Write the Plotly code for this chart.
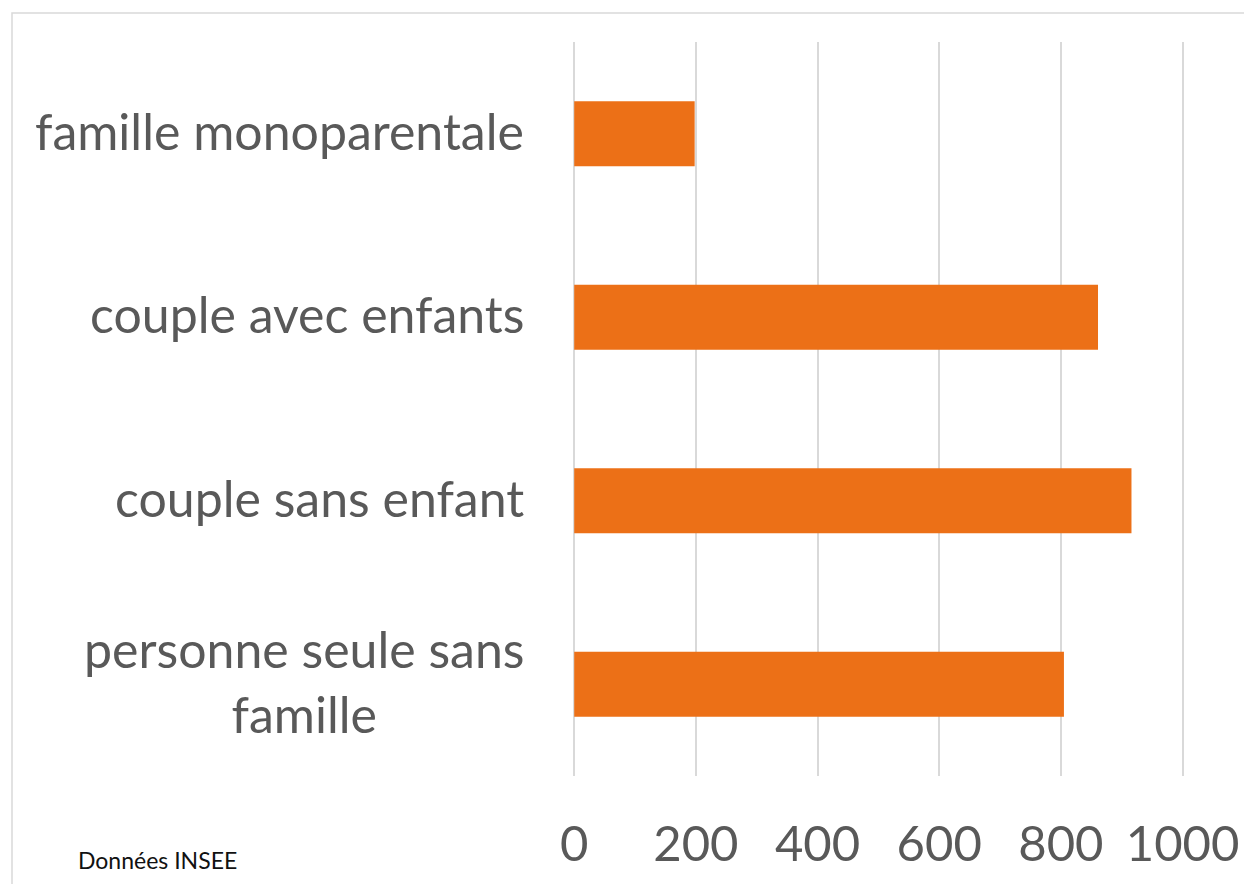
import plotly.graph_objects as go

# données (INSEE)
categories = ["personne seule sans<br>famille", "couple sans enfant",
              "couple avec enfants", "famille monoparentale"]
valeurs = [805, 916, 861, 198]
ticks_x = [0, 200, 400, 600, 800, 1000]
source = "Données INSEE"

# la page html ajoute 8px de marge autour du graphique
W, H = 1244, 876
ml, mr, mt, mb = 565, 67, 34, 108
pw = W - ml - mr
ph = H - mt - mb

gris_texte = "#595959"
gris_grille = "#d9d9d9"
orange = "#EC7017"

fig = go.Figure()
fig.add_trace(go.Bar(
    x=valeurs, y=categories, orientation="h",
    marker=dict(color=orange, line=dict(width=0)),
    width=0.354, hoverinfo="x+y",
))

# libellés des catégories (centrés sur plusieurs lignes comme dans Excel)
for cat in categories:
    fig.add_annotation(
        x=0, xref="x", y=cat, yref="y",
        text=cat, showarrow=False, xanchor="right", yanchor="middle",
        align="center", xshift=-48, yshift=3,
        font=dict(family="Lato", size=50, color=gris_texte),
    )

fig.add_annotation(
    x=(68 - ml) / pw, xref="paper", y=-84 / ph, yref="paper",
    text=source, showarrow=False, xanchor="left", yanchor="middle",
    font=dict(family="Lato", size=23, color="#111111"),
)

# cadre du graphique (déborde à droite et en bas)
fig.add_shape(
    type="rect", xref="paper", yref="paper",
    x0=(4 - ml) / pw, x1=(W + 5 - ml) / pw,
    y0=-(H + 5 - mt - ph) / ph, y1=1 + (mt - 5) / ph,
    line=dict(color=gris_grille, width=1.5), fillcolor="rgba(0,0,0,0)",
    layer="below",
)

fig.update_xaxes(
    range=[-2, 1004], tickvals=ticks_x, showgrid=True,
    gridcolor=gris_grille, gridwidth=2, zeroline=False, showline=False,
    ticks="", ticklabelstandoff=35,
    tickfont=dict(family="Lato", size=49, color=gris_texte),
)
fig.update_yaxes(
    range=[-0.5, 3.5], showticklabels=False, showgrid=False,
    zeroline=False, showline=False, fixedrange=True,
)

fig.update_layout(
    width=W, height=H,
    margin=dict(l=ml, r=mr, t=mt, b=mb, autoexpand=False),
    plot_bgcolor="white", paper_bgcolor="white",
    showlegend=False, bargap=0.646,
)

fig.write_html("out.html")
